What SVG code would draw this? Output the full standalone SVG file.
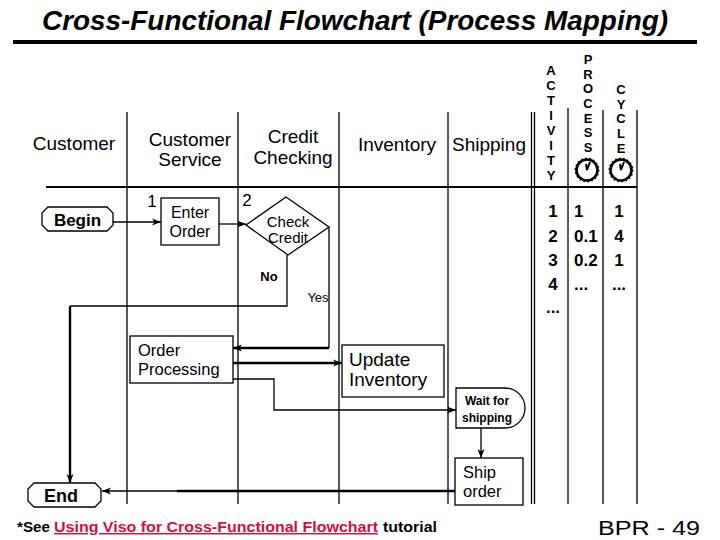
<svg xmlns="http://www.w3.org/2000/svg" width="720" height="540" viewBox="0 0 720 540">
<style>
text{font-family:"Liberation Sans",Arial,sans-serif;fill:#000}
.hdr{font-size:19px;text-anchor:middle}
.lane{stroke:#000;stroke-width:1.3;fill:none}
.box{fill:#fff;stroke:#000;stroke-width:1.3}
.lbl{font-size:16px}
.vl{font-size:13px;font-weight:bold;text-anchor:middle}
.num{font-size:17px;font-weight:bold}
.c{stroke:#000;fill:none;stroke-width:1.3}
.ct{stroke:#000;fill:none;stroke-width:2.4}
</style>
<defs>
<marker id="arr" markerUnits="userSpaceOnUse" markerWidth="10" markerHeight="8" refX="9" refY="4" orient="auto">
<path d="M0,0.5 L9,4 L0,7.5 L2.5,4 Z" fill="#000"/>
</marker>
<g id="clock">
<circle r="10.5" fill="#fff" stroke="#000" stroke-width="2.6"/>
<circle r="11.5" fill="none" stroke="#000" stroke-width="2" stroke-dasharray="1.5 2.5"/>
<path d="M0,0 L3,-8 M0,0 L-1,-6" stroke="#000" stroke-width="2" fill="none"/>
</g>
</defs>

<rect width="720" height="540" fill="#fff"/>

<g id="title">
<text x="42" y="30" font-size="27" font-weight="bold" font-style="italic" textLength="626" lengthAdjust="spacingAndGlyphs">Cross-Functional Flowchart (Process Mapping)</text>
<rect x="13" y="40" width="684" height="4" fill="#000"/>
</g>

<g id="lanes">
<line class="lane" x1="127" y1="112" x2="127" y2="504"/>
<line class="lane" x1="238" y1="112" x2="238" y2="504"/>
<line class="lane" x1="339" y1="112" x2="339" y2="504"/>
<line class="lane" x1="448" y1="112" x2="448" y2="504"/>
<line class="lane" x1="531.5" y1="112" x2="531.5" y2="504"/>
<line class="lane" x1="534.5" y1="112" x2="534.5" y2="504"/>
<line class="lane" x1="568" y1="108" x2="568" y2="504"/>
<line class="lane" x1="603" y1="110" x2="603" y2="504"/>
<line class="lane" x1="637" y1="110" x2="637" y2="504"/>
<line x1="46" y1="187" x2="637" y2="187" stroke="#000" stroke-width="2.2"/>
<text class="hdr" x="74" y="150">Customer</text>
<text class="hdr" x="190" y="146">Customer</text>
<text class="hdr" x="190" y="166">Service</text>
<text class="hdr" x="293" y="143">Credit</text>
<text class="hdr" x="293" y="164">Checking</text>
<text class="hdr" x="397" y="151">Inventory</text>
<text class="hdr" x="489" y="151">Shipping</text>
</g>

<g id="metrics-header">
<text class="vl" x="551" y="75">A</text>
<text class="vl" x="551" y="90">C</text>
<text class="vl" x="551" y="105">T</text>
<text class="vl" x="551" y="120">I</text>
<text class="vl" x="551" y="135">V</text>
<text class="vl" x="551" y="150">I</text>
<text class="vl" x="551" y="165">T</text>
<text class="vl" x="551" y="180">Y</text>
<text class="vl" x="588" y="64">P</text>
<text class="vl" x="588" y="78.7">R</text>
<text class="vl" x="588" y="93.4">O</text>
<text class="vl" x="588" y="108">C</text>
<text class="vl" x="588" y="122.7">E</text>
<text class="vl" x="588" y="137.4">S</text>
<text class="vl" x="588" y="152">S</text>
<text class="vl" x="621" y="94">C</text>
<text class="vl" x="621" y="108.7">Y</text>
<text class="vl" x="621" y="123.4">C</text>
<text class="vl" x="621" y="138">L</text>
<text class="vl" x="621" y="152.7">E</text>
<use href="#clock" x="587" y="170"/>
<use href="#clock" x="621" y="170"/>
</g>

<g id="metrics-values">
<text class="num" x="553" y="217" text-anchor="middle">1</text>
<text class="num" x="553" y="242" text-anchor="middle">2</text>
<text class="num" x="553" y="266" text-anchor="middle">3</text>
<text class="num" x="553" y="290" text-anchor="middle">4</text>
<text class="num" x="553" y="313" text-anchor="middle">...</text>
<text class="num" x="574" y="217">1</text>
<text class="num" x="574" y="242">0.1</text>
<text class="num" x="574" y="266">0.2</text>
<text class="num" x="574" y="290">...</text>
<text class="num" x="619" y="217" text-anchor="middle">1</text>
<text class="num" x="619" y="242" text-anchor="middle">4</text>
<text class="num" x="619" y="266" text-anchor="middle">1</text>
<text class="num" x="619" y="290" text-anchor="middle">...</text>
</g>

<g id="connectors">
<path class="c" d="M113,222 H161" marker-end="url(#arr)"/>
<path class="c" d="M219,224 H246" marker-end="url(#arr)"/>
<path class="c" d="M287,255 V306 H70"/>
<path class="ct" d="M70,306 V483" marker-end="url(#arr)"/>
<path class="c" d="M329,227 V348"/>
<path class="ct" d="M329,348 H233" marker-end="url(#arr)"/>
<path class="ct" d="M233,363 H342" marker-end="url(#arr)"/>
<path class="c" d="M233,379 H274 V410 H456" marker-end="url(#arr)"/>
<path class="c" d="M481,428 V458" marker-end="url(#arr)"/>
<path class="ct" d="M455,491 H177"/>
<path class="c" d="M178,491 H102" marker-end="url(#arr)"/>
<text x="269" y="281" font-size="13" font-weight="bold" text-anchor="middle">No</text>
<text x="318" y="302" font-size="13" text-anchor="middle">Yes</text>
</g>

<g id="begin">
<path class="box" d="M48,207 H107 L113,213 V225 L107,231 H48 L42,225 V213 Z"/>
<text x="77.5" y="226" font-size="17" font-weight="bold" text-anchor="middle">Begin</text>
</g>

<g id="enter-order">
<text x="152" y="207" font-size="17" text-anchor="middle">1</text>
<rect class="box" x="161" y="198" width="58" height="47"/>
<text class="lbl" x="190" y="218" text-anchor="middle">Enter</text>
<text class="lbl" x="190" y="237" text-anchor="middle">Order</text>
</g>

<g id="check-credit">
<text x="247" y="206" font-size="17" text-anchor="middle">2</text>
<path class="box" d="M246,225 L286,197 L329,227 L288,255 Z"/>
<text x="288" y="227" font-size="15" text-anchor="middle">Check</text>
<text x="288" y="243" font-size="15" text-anchor="middle">Credit</text>
</g>

<g id="order-processing">
<rect class="box" x="130" y="336" width="103" height="47"/>
<text x="138" y="356" font-size="16.5">Order</text>
<text x="138" y="375" font-size="16.5">Processing</text>
</g>

<g id="update-inventory">
<rect class="box" x="342" y="345" width="102" height="52"/>
<text x="349" y="366" font-size="19">Update</text>
<text x="349" y="386" font-size="19">Inventory</text>
</g>

<g id="wait-for-shipping">
<path class="box" d="M456,388 H505 A20,20 0 0 1 505,428 H456 Z"/>
<text x="487" y="405" font-size="12" font-weight="bold" text-anchor="middle">Wait for</text>
<text x="487" y="422" font-size="12" font-weight="bold" text-anchor="middle">shipping</text>
</g>

<g id="ship-order">
<rect class="box" x="455" y="458" width="68" height="47"/>
<text x="463" y="478" font-size="16.5">Ship</text>
<text x="463" y="497" font-size="16.5">order</text>
</g>

<g id="end">
<path class="box" d="M34,483 H95 L101,489 V501 L95,507 H34 L28,501 V489 Z"/>
<text x="61" y="502" font-size="18" font-weight="bold" text-anchor="middle">End</text>
</g>

<g id="footer">
<text x="17" y="532" font-size="14.5" font-weight="bold" textLength="33" lengthAdjust="spacingAndGlyphs">*See</text>
<text x="54" y="532" font-size="14.5" font-weight="bold" fill="#cc1040" style="fill:#cc1040" text-decoration="underline" textLength="324" lengthAdjust="spacingAndGlyphs">Using Viso for Cross-Functional Flowchart</text>
<text x="383" y="532" font-size="14.5" font-weight="bold" textLength="54" lengthAdjust="spacingAndGlyphs">tutorial</text>
<text x="598" y="535" font-size="20" textLength="102" lengthAdjust="spacingAndGlyphs">BPR - 49</text>
</g>
</svg>
